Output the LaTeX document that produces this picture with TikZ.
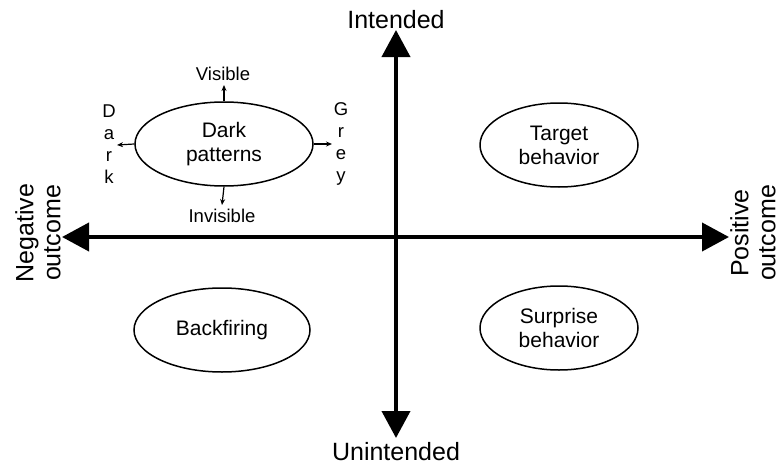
\documentclass[tikz,border=0pt]{standalone}
\usepackage{fontspec}
\setmainfont{Liberation Sans}
\usetikzlibrary{arrows.meta,shapes.geometric}
\begin{document}
\begin{tikzpicture}[x=1pt,y=-1pt,
  axis/.style={line width=4pt,-{Triangle[length=27pt,width=28pt]}},
  oval/.style={draw,ellipse,line width=1.5pt,minimum width=#1,minimum height=84pt,inner sep=0pt,
    font=\fontsize{21}{24}\selectfont,align=center},
  bigtext/.style={font=\fontsize{25}{27}\selectfont,align=center,inner sep=0pt},
  smalltext/.style={font=\fontsize{18.5}{21}\selectfont,align=center,inner sep=0pt},
  smallarrow/.style={line width=1.2pt,-{Stealth[length=6pt,width=5pt]}}]
  \useasboundingbox (0,0) rectangle (780,466);
  % axis ends
  \coordinate (top) at (396,30);
  \coordinate (bottom) at (396,438);
  \coordinate (left) at (62,237);
  \coordinate (right) at (729,237);
  \coordinate (vt) at (396,50);
  \coordinate (hl) at (80,237);
  \draw[axis] (396,237) -- (top);
  \draw[axis] (396,237) -- (bottom);
  \draw[axis] (396,237) -- (left);
  \draw[axis] (396,237) -- (right);
  % axis labels
  \node[bigtext] (intended) at (396,20) {Intended};
  \node[bigtext] (unintended) at (396,452) {Unintended};
  \node[bigtext,rotate=90] (negative) at (38,233) {Negative\\outcome};
  \node[bigtext,rotate=90] (positive) at (753,233) {Positive\\outcome};
  % quadrant ellipses
  \node[oval=178pt] (dark) at (224,144) {Dark\\patterns};
  \node[oval=158pt] (target) at (559,145) {Target\\behavior};
  \node[oval=176pt] (back) at (222,330) {Backfiring};
  \node[oval=158pt] (surprise) at (559,328) {Surprise\\behavior};
  % dark pattern dimensions
  \node[smalltext] (visible) at (223,74) {Visible};
  \node[smalltext] (invisible) at (222,216) {Invisible};
  \node[smalltext,font=\fontsize{18.5}{22}\selectfont] (darkdir) at (109,144) {D\\a\\r\\k};
  \node[smalltext,font=\fontsize{18.5}{22}\selectfont] (greydir) at (341,144) {G\\r\\e\\y};
  \coordinate (vtip) at (224,85);
  \coordinate (itip) at (222,205);
  \coordinate (ltip) at (117,145);
  \coordinate (rtip) at (332,144);
  \draw[smallarrow] (dark.north) -- (vtip);
  \draw[smallarrow] (dark.south) -- (itip);
  \draw[smallarrow] (dark.west) -- (ltip);
  \draw[smallarrow] (dark.east) -- (rtip);
\end{tikzpicture}
\end{document}
